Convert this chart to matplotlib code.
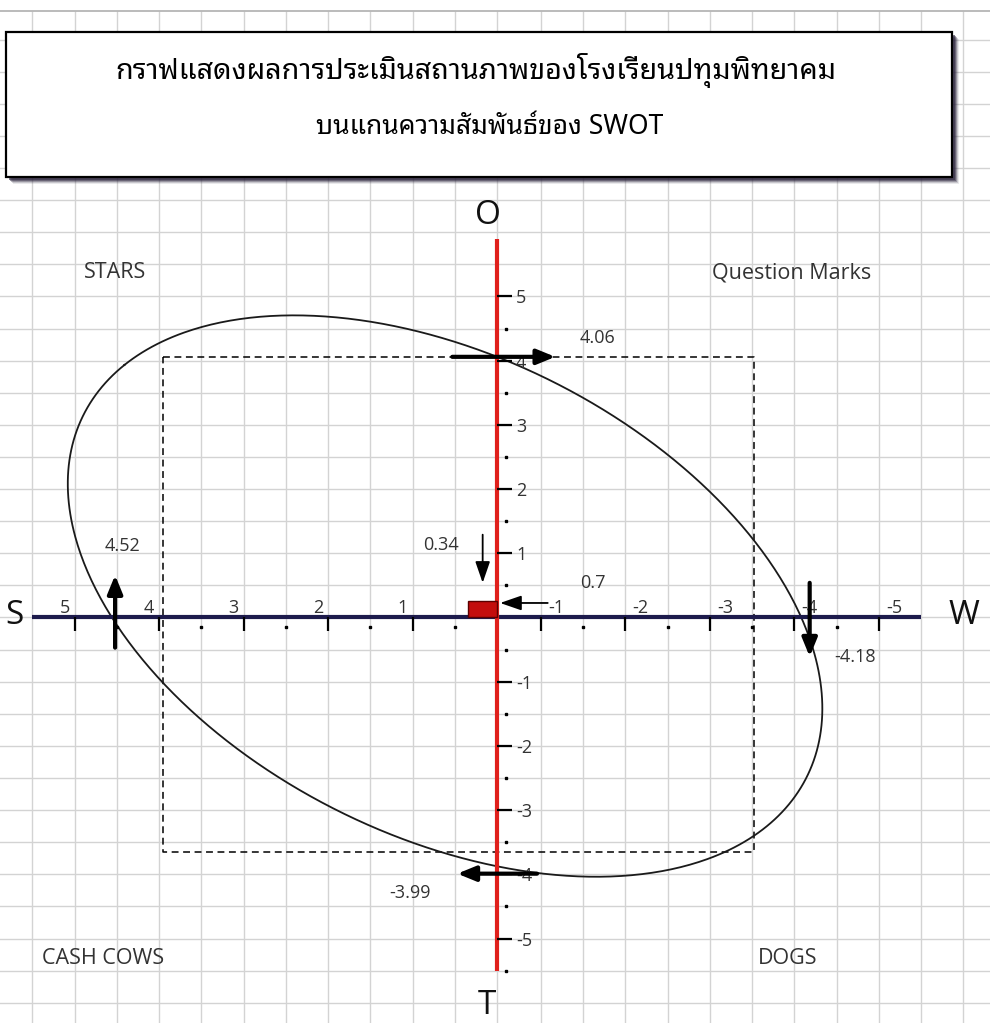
import numpy as np
import matplotlib
matplotlib.use('Agg')
import matplotlib.pyplot as plt
from matplotlib import transforms as mtrans
from matplotlib.patches import Rectangle

# ---------------- data ----------------
title_lines = ['กราฟแสดงผลการประเมินสถานภาพของโรงเรียนปทุมพิทยาคม',
               'บนแกนความสัมพันธ์ของ SWOT']
S_value = 4.52
W_value = -4.18
O_value = 4.06
T_value = -3.99
S_label = '4.52'
W_label = '-4.18'
O_label = '4.06'
T_label = '-3.99'
diff_x_label = '0.34'
diff_y_label = '0.7'
rect_width = 0.34          # S - |W|
rect_height = 0.26         # drawn height
x_tick_values = [5, 4, 3, 2, 1, -1, -2, -3, -4, -5]
x_tick_labels = ['5', '4', '3', '2', '1', '-1', '-2', '-3', '-4', '-5']
x_minor_values = [4.5, 3.5, 2.5, 1.5, 0.5, -1.5, -2.5, -3.5, -4.5]
y_tick_values = [5, 4, 3, 2, 1, -1, -2, -3, -4, -5]
y_tick_labels = ['5', '4', '3', '2', '1', '-1', '-2', '-3', '-4', '-5']
y_minor_values = [4.5, 3.5, 2.5, 1.5, 0.5, -0.5, -1.5, -2.5, -3.5, -4.5, -5.5]
quadrant_names = ['STARS', 'Question Marks', 'CASH COWS', 'DOGS']
axis_letters = ['S', 'W', 'O', 'T']
box_left, box_right, box_top, box_bottom = 3.95, -3.52, 4.06, -3.66
ellipse_center = (0.615, 0.334)
ellipse_semi_axes = (5.23, 3.42)
ellipse_angle_deg = 43.5

# ---------------- figure ----------------
W_PX, H_PX = 990, 1023
fig = plt.figure(figsize=(W_PX / 100, H_PX / 100), dpi=100)
ax = fig.add_axes([0, 0, 1, 1])
ax.set_axis_off()

# the W half of the axis is drawn shifted (as in the original drawing)
K = 0.52
def fwd(v):
    v = np.asarray(v, dtype=float)
    return np.where(v >= 0, v, np.where(v >= -1, K * v, v + 1 - K))

def inv(s):
    s = np.asarray(s, dtype=float)
    return np.where(s >= 0, s, np.where(s >= -K, s / K, s - 1 + K))

ax.set_xscale('function', functions=(fwd, inv))
ax.set_xlim(5.882, float(inv(-5.834)))
ax.set_ylim(-6.316, 9.618)

def px(x, y):
    return x / W_PX, 1 - y / H_PX

def off(dx, dy):
    return mtrans.offset_copy(ax.transData, fig=fig, x=dx, y=dy, units='dots')

# ---------------- background grid ----------------
grid_col = '#d3d3d3'
y_top = 9.447
gx = list(np.arange(0, 5.51, 0.5)) + list(-np.arange(1, 6.01, 0.5))
gy = np.arange(-6.0, 9.01, 0.5)
ax.vlines(gx, -6.4, y_top, color=grid_col, lw=1.0, zorder=0)
ax.hlines(gy, 5.9, -6.4, color=grid_col, lw=1.0, zorder=0)
ax.hlines([y_top], 5.9, -6.4, color='#b5b5b5', lw=1.3, zorder=0)

# ---------------- dashed box and ellipse ----------------
ax.plot([box_left, box_right, box_right, box_left, box_left],
        [box_top, box_top, box_bottom, box_bottom, box_top],
        color='black', lw=1.1, ls=(0, (4.5, 3)), zorder=2)

t = np.linspace(0, 2 * np.pi, 600)
a, b = ellipse_semi_axes
phi = np.deg2rad(ellipse_angle_deg)
ex = ellipse_center[0] + a * np.cos(t) * np.cos(phi) - b * np.sin(t) * np.sin(phi)
ey = ellipse_center[1] + a * np.cos(t) * np.sin(phi) + b * np.sin(t) * np.cos(phi)
ax.plot(inv(ex), ey, color='#1a1a1a', lw=1.3, zorder=2)

# ---------------- axes ----------------
ax.plot([5.5, -5.5], [0, 0], color='#1d1b4c', lw=3.0, zorder=3, solid_capstyle='butt')
ax.plot(x_tick_values, np.zeros(len(x_tick_values)), ls='none', marker=3,
        ms=10, mew=1.6, color='black', zorder=3)
ax.plot(x_minor_values, np.zeros(len(x_minor_values)), ls='none', marker='s',
        ms=2.0, color='black', zorder=3, transform=off(0, -10))

ax.plot([0, 0], [-5.5, 5.9], color='#e0201c', lw=3.0, zorder=4, solid_capstyle='butt')
ax.plot(np.zeros(len(y_tick_values)), y_tick_values, ls='none', marker=1,
        ms=10.5, mew=1.6, color='black', zorder=4)
ax.plot(np.zeros(len(y_minor_values)), y_minor_values, ls='none', marker='s',
        ms=2.0, color='black', zorder=4, transform=off(9, 0))

lab_kw = dict(fontsize=13, color='#333333', family=['Open Sans', 'DejaVu Sans'])
for v, s in zip(x_tick_values, x_tick_labels):
    dx = -10 if v > 0 else 15
    ax.text(v, 0, s, ha='center', va='baseline', transform=off(dx, 4), zorder=5, **lab_kw)
for v, s in zip(y_tick_values, y_tick_labels):
    ax.text(0, v, s, ha='left', va='center_baseline', transform=off(19, 0), zorder=5, **lab_kw)

# ---------------- difference rectangle ----------------
ax.add_patch(Rectangle((0, 0), rect_width, rect_height, facecolor='#c30d0d',
                       edgecolor='#5a0000', lw=1.0, zorder=6))

# ---------------- arrows ----------------
thick = dict(arrowstyle='-|>,head_length=1.1,head_width=0.45', lw=3.0, color='black',
             shrinkA=0, shrinkB=0, mutation_scale=10)
thin = dict(arrowstyle='-|>,head_length=1.3,head_width=0.45', lw=1.3, color='black',
            shrinkA=0, shrinkB=0, mutation_scale=10)
ax.annotate('', xy=(-1.17, O_value), xytext=(0.53, O_value), arrowprops=thick, zorder=7)
ax.annotate('', xy=(0.47, T_value), xytext=(-0.91, T_value), arrowprops=thick, zorder=7)
ax.annotate('', xy=(S_value, 0.66), xytext=(S_value, -0.47), arrowprops=thick, zorder=7)
ax.annotate('', xy=(W_value, -0.61), xytext=(W_value, 0.54), arrowprops=thick, zorder=7)
ax.annotate('', xy=(rect_width / 2, rect_height + 0.28), xytext=(rect_width / 2, 1.29),
            arrowprops=thin, zorder=7)
ax.annotate('', xy=(-0.07, rect_height * 0.87), xytext=(-1.08, rect_height * 0.87),
            arrowprops=thin, zorder=7)

val_kw = dict(fontsize=13, color='#333333', ha='center', va='center',
              family=['Open Sans', 'DejaVu Sans'], zorder=8)
ax.annotate(O_label, xy=(0, O_value), xytext=(100, 19), textcoords='offset pixels', **val_kw)
ax.annotate(S_label, xy=(S_value, 0), xytext=(7, 71), textcoords='offset pixels', **val_kw)
ax.annotate(W_label, xy=(W_value, 0), xytext=(45, -40), textcoords='offset pixels', **val_kw)
ax.annotate(T_label, xy=(0, T_value), xytext=(-87, -19), textcoords='offset pixels', **val_kw)
ax.annotate(diff_x_label, xy=(rect_width, 0), xytext=(-27, 72), textcoords='offset pixels', **val_kw)
ax.annotate(diff_y_label, xy=(0, rect_height), xytext=(96, 18), textcoords='offset pixels', **val_kw)

# ---------------- letters and quadrant names ----------------
let_kw = dict(fontsize=24, color='#111111', ha='center', va='center',
              family=['Open Sans', 'DejaVu Sans'])
for name, (x, y) in zip(axis_letters, [(14, 615), (964, 615), (488, 216), (487, 1006)]):
    fig.text(*px(x, y), name, **let_kw)

q_kw = dict(fontsize=15.5, color='#333333', ha='center', va='center',
            family=['Open Sans', 'DejaVu Sans'])
for name, (x, y) in zip(quadrant_names, [(115, 273), (792, 273), (103, 958), (788, 958)]):
    fig.text(*px(x, y), name, **q_kw)

# ---------------- title box ----------------
bx0, by0, bx1, by1 = 6, 32, 952, 177
for i, (d, al) in enumerate([(7, 0.10), (6, 0.18), (5, 0.3), (4, 0.45), (3, 0.6)]):
    fig.patches.append(Rectangle(px(bx0 + d, by1 + d), (bx1 - bx0) / W_PX, (by1 - by0) / H_PX,
                                 transform=fig.transFigure, facecolor='#2f2840',
                                 edgecolor='none', alpha=al, zorder=9))
fig.patches.append(Rectangle(px(bx0, by1), (bx1 - bx0) / W_PX, (by1 - by0) / H_PX,
                             transform=fig.transFigure, facecolor='white',
                             edgecolor='black', lw=1.6, zorder=10))

thai = ['Noto Sans Thai Looped', 'Noto Sans', 'DejaVu Sans']
t1 = fig.text(*px(476, 79), title_lines[0], ha='center', va='baseline',
              fontsize=17, fontweight='bold', family=thai, zorder=11)
t2 = fig.text(*px(490, 134), title_lines[1], ha='center', va='baseline',
              fontsize=17, fontweight='bold', family=thai, zorder=11)
fig.canvas.draw()
r = fig.canvas.get_renderer()
w1 = t1.get_window_extent(r).width
f1 = 17 * 720.0 / w1
t1.set_fontsize(f1)
t2.set_fontsize(0.92 * f1)

fig.savefig('out.png', dpi=100)
